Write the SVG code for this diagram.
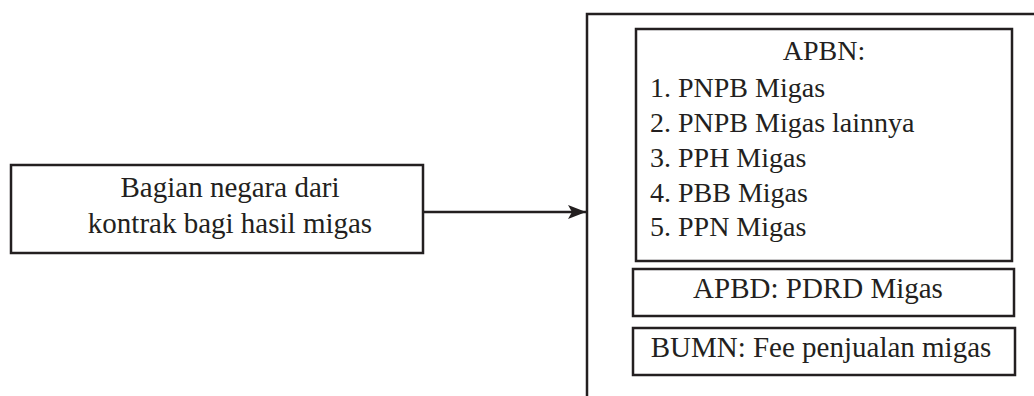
<svg xmlns="http://www.w3.org/2000/svg" width="1034" height="396" viewBox="0 0 1034 396">
<style>
.box{fill:#ffffff;stroke:#231f20;stroke-width:2.5}
.ln{fill:none;stroke:#231f20;stroke-width:2.5}
text{font-family:"Liberation Serif","Times New Roman",serif;fill:#231f20;font-size:29px}
.c{text-anchor:middle}
.li{font-size:28px}
</style>
<defs>
<marker id="ah" markerUnits="userSpaceOnUse" viewBox="0 0 20 16" refX="18" refY="8" markerWidth="20" markerHeight="16" orient="auto">
<path d="M0,1 L18,8 L0,15 L4,8 Z" fill="#231f20"/>
</marker>
</defs>
<rect width="1034" height="396" fill="#ffffff"/>
<g id="connectors">
<line class="ln" x1="423" y1="212" x2="586" y2="212" marker-end="url(#ah)"/>
<path class="ln" d="M587,396 L587,14 L1034,14"/>
</g>
<g id="node-source">
<rect class="box" x="11" y="165" width="412" height="88"/>
<text class="c" x="230" y="197">Bagian negara dari</text>
<text class="c" x="230" y="233">kontrak bagi hasil migas</text>
</g>
<g id="node-apbn">
<rect class="box" x="636" y="29" width="376" height="232"/>
<text class="c li" x="824" y="60">APBN:</text>
<text class="li" x="650" y="97">1. PNPB Migas</text>
<text class="li" x="650" y="132">2. PNPB Migas lainnya</text>
<text class="li" x="650" y="167">3. PPH Migas</text>
<text class="li" x="650" y="202">4. PBB Migas</text>
<text class="li" x="650" y="236">5. PPN Migas</text>
</g>
<g id="node-apbd">
<rect class="box" x="633" y="269" width="381" height="47"/>
<text class="c" x="818" y="298">APBD: PDRD Migas</text>
</g>
<g id="node-bumn">
<rect class="box" x="633" y="328" width="382" height="47"/>
<text class="c" x="821" y="357">BUMN: Fee penjualan migas</text>
</g>
</svg>
